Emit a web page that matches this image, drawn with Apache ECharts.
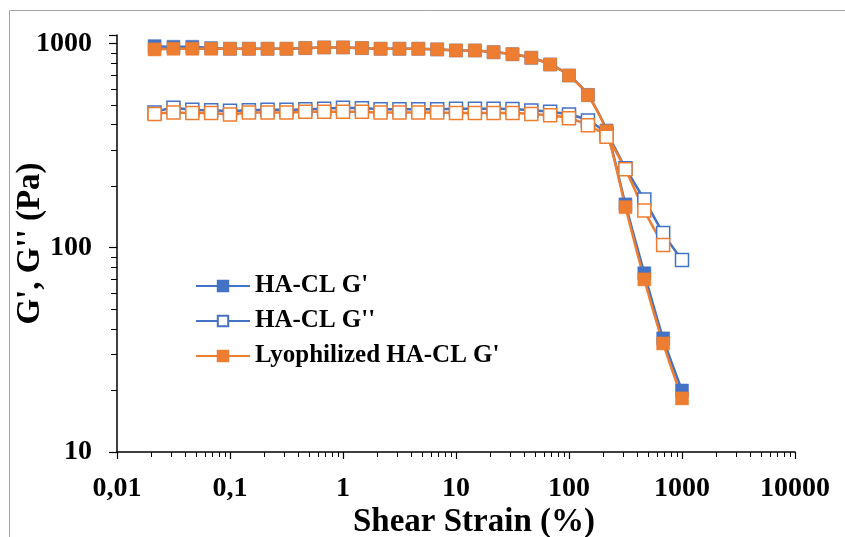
<!DOCTYPE html>
<html>
<head>
<meta charset="utf-8">
<script src="https://cdn.jsdelivr.net/npm/echarts@6/dist/echarts.min.js"></script>
<style>html,body{margin:0;padding:0;background:#fff;}#c{width:845px;height:537px;}</style>
</head>
<body>
<div id="c"></div>
<script>
// Shear strain (%)
const strain = [0.0215, 0.0316, 0.0464, 0.0681, 0.1, 0.147, 0.215, 0.316, 0.464, 0.681, 1, 1.47, 2.15, 3.16, 4.64, 6.81, 10, 14.7, 21.5, 31.6, 46.4, 68.1, 100, 147, 215, 316, 464, 681, 1000];
// HA-CL G' (Pa)
const haclGp = [970, 963, 963, 949, 942, 942, 942, 942, 949, 956, 956, 949, 942, 942, 942, 935, 924, 924, 906, 886, 851, 789, 697, 560, 375, 163, 75, 36, 20];
// HA-CL G'' (Pa)
const haclGpp = [459, 484, 473, 471, 468, 471, 473, 473, 477, 479, 484, 482, 477, 477, 477, 477, 479, 479, 479, 478, 470, 463, 449, 420, 360, 245, 172, 118, 87];
// Lyophilized HA-CL G' (Pa)
const lyoGp = [935, 942, 942, 942, 942, 942, 942, 942, 949, 956, 956, 949, 942, 942, 942, 935, 924, 924, 906, 886, 851, 789, 697, 558, 372, 158, 70, 34, 18.3];
// Lyophilized HA-CL G'' (Pa)
const lyoGpp = [452, 459, 456, 456, 449, 459, 459, 459, 463, 463, 463, 463, 459, 459, 459, 459, 456, 456, 456, 456, 452, 445, 430, 398, 349, 242, 152, 103];

const seriesNames = ["HA-CL G'", "HA-CL G''", "Lyophilized HA-CL G'", "Lyophilized HA-CL G''"];
const legendNames = ["HA-CL G'", "HA-CL G''", "Lyophilized HA-CL G'"];

const BLUE = '#4472C4', ORANGE = '#ED7D31';
const FONT = '"Liberation Serif", "Times New Roman", serif';

function pairs(xs, ys) { return ys.map((y, i) => [xs[i], y]); }

function mk(name, data, color, filled) {
  return {
    name: name, type: 'line', data: data, smooth: 0.25,
    symbol: 'rect', symbolSize: 13,
    lineStyle: { color: color, width: 2.5 },
    itemStyle: filled ? { color: color, borderColor: color, borderWidth: 0.5 }
                      : { color: '#ffffff', borderColor: color, borderWidth: 1.5 },
    emphasis: { disabled: true },
    animation: false
  };
}

function fmtNum(v) {
  const n = Number(Number(v).toPrecision(6));
  return String(n).replace('.', ',');
}

const chart = echarts.init(document.getElementById('c'), null, { renderer: 'canvas' });
chart.setOption({
  backgroundColor: '#ffffff',
  animation: false,
  graphic: [{
    type: 'rect', shape: { x: 9.5, y: 10.5, width: 900, height: 600 },
    style: { fill: 'none', stroke: '#A6A6A6', lineWidth: 1 }, silent: true, z: -10
  }],
  grid: { left: 117, top: 35, right: 50, bottom: 85, containLabel: false, outerBoundsMode: 'none' },
  legend: {
    data: legendNames, orient: 'vertical', left: 190, top: 268,
    itemWidth: 54, itemHeight: 13, itemGap: 9,
    textStyle: { fontFamily: FONT, fontWeight: 'bold', fontSize: 25, color: '#000', lineHeight: 26 }
  },
  xAxis: {
    type: 'log', logBase: 10, min: 0.01, max: 10000,
    name: 'Shear Strain (%)', nameLocation: 'middle', nameGap: 54, nameMoveOverlap: false,
    nameTextStyle: { fontFamily: FONT, fontWeight: 'bold', fontSize: 33, color: '#000', padding: [0, 0, 0, 36] },
    axisLine: { lineStyle: { color: '#000', width: 1.5 } },
    axisTick: { show: true, length: 7, lineStyle: { color: '#000', width: 1.2 } },
    minorTick: { show: true, splitNumber: 9, length: 5, lineStyle: { color: '#000', width: 1 } },
    splitLine: { show: false },
    axisLabel: { fontFamily: FONT, fontWeight: 'bold', fontSize: 28, color: '#000', margin: 23, formatter: fmtNum }
  },
  yAxis: {
    type: 'log', logBase: 10, min: 10, max: 1100,
    name: "G', G'' (Pa)", nameLocation: 'middle', nameGap: 70, nameRotate: 90, nameMoveOverlap: false,
    nameTextStyle: { fontFamily: FONT, fontWeight: 'bold', fontSize: 33, color: '#000' },
    axisLine: { lineStyle: { color: '#000', width: 1.5 } },
    axisTick: { show: true, length: 8, lineStyle: { color: '#000', width: 1.2 } },
    minorTick: { show: true, splitNumber: 9, length: 6, lineStyle: { color: '#000', width: 1 } },
    splitLine: { show: false },
    axisLabel: { fontFamily: FONT, fontWeight: 'bold', fontSize: 28, color: '#000', margin: 25,
      formatter: function (v) { const l = Math.log10(v); return Math.abs(l - Math.round(l)) < 1e-6 ? fmtNum(v) : ''; } }
  },
  series: [
    mk(seriesNames[0], pairs(strain, haclGp), BLUE, true),
    mk(seriesNames[1], pairs(strain, haclGpp), BLUE, false),
    mk(seriesNames[2], pairs(strain, lyoGp), ORANGE, true),
    mk(seriesNames[3], pairs(strain, lyoGpp), ORANGE, false)
  ]
});
</script>
</body>
</html>
